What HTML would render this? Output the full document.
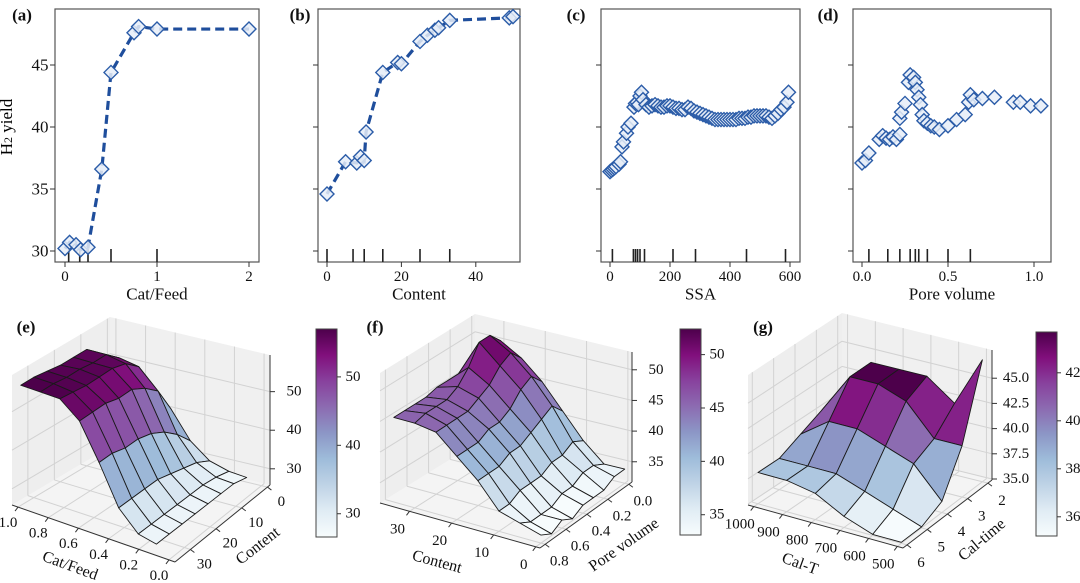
<!DOCTYPE html>
<html><head><meta charset="utf-8"><style>
body{margin:0;background:#fff;}
svg{display:block;font-family:"Liberation Serif",serif;}
</style></head><body>
<svg id="fig" width="1080" height="583" viewBox="0 0 1080 583" xmlns="http://www.w3.org/2000/svg">
<defs>
<linearGradient id="bupu" x1="0" y1="1" x2="0" y2="0">
<stop offset="0" stop-color="#f7fcfd"/><stop offset="0.125" stop-color="#e0ecf4"/><stop offset="0.25" stop-color="#bfd3e6"/><stop offset="0.375" stop-color="#9ebcda"/><stop offset="0.5" stop-color="#8c96c6"/><stop offset="0.625" stop-color="#8c6bb1"/><stop offset="0.75" stop-color="#88419d"/><stop offset="0.875" stop-color="#810f7c"/><stop offset="1" stop-color="#4d004b"/>
</linearGradient>
</defs>
<text x="12" y="127" font-size="17" text-anchor="middle" transform="rotate(-90 12 127)">H<tspan font-size="12">2</tspan> yield</text>
</svg>
<script>
// ---- data: top partial dependence panels ----
const aX=[0,0.05,0.12,0.17,0.25,0.4,0.5,0.75,0.8,1,2];
const aY=[30.2,30.7,30.5,30.1,30.3,36.6,44.4,47.6,48.1,47.9,47.9];
const aRug=[0.04,0.16,0.25,0.5,1.0];
const bX=[0,5,8,9,10,10.5,15,19,20,25,27,29,30,33,49,50];
const bY=[34.6,37.2,37.1,37.6,37.3,39.6,44.4,45.2,45.1,46.9,47.4,47.8,48.0,48.6,48.8,48.9];
const bRug=[0,7,10,15,25,33];
const cX=[0,5,10,15,20,30,35,40,45,55,60,70,80,85,90,95,100,105,110,120,130,140,150,160,170,180,190,200,210,220,230,240,250,260,270,280,290,300,310,320,330,340,350,360,370,380,390,400,410,420,430,440,450,460,470,480,490,500,510,520,530,540,550,560,570,580,590,595];
const cY=[36.4,36.5,36.6,36.7,36.8,37.0,37.2,38.4,38.8,39.5,40.0,40.3,41.6,41.9,42.0,41.8,42.5,42.8,42.2,41.8,41.6,41.7,41.8,41.7,41.6,41.6,41.7,41.7,41.6,41.5,41.5,41.4,41.4,41.6,41.5,41.3,41.2,41.1,41.0,40.9,40.8,40.7,40.6,40.6,40.6,40.6,40.6,40.6,40.6,40.6,40.7,40.7,40.7,40.8,40.8,40.9,40.9,40.9,40.9,40.9,40.8,40.7,40.9,41.1,41.4,41.6,42.0,42.8];
const cRug=[8,78,85,92,100,115,210,285,455,585];
const dX=[0,0.02,0.04,0.1,0.12,0.14,0.16,0.18,0.2,0.22,0.22,0.23,0.25,0.27,0.28,0.3,0.31,0.32,0.33,0.34,0.35,0.36,0.38,0.4,0.42,0.45,0.5,0.55,0.6,0.62,0.63,0.65,0.7,0.77,0.88,0.92,0.98,1.04];
const dY=[37.1,37.3,37.9,39.0,39.3,39.1,39.0,39.2,39.0,39.4,40.7,41.2,41.9,43.6,44.2,44.0,43.6,43.0,42.4,41.8,41.0,40.5,40.3,40.1,40.0,39.8,40.1,40.6,41.0,42.0,42.6,42.2,42.3,42.4,42.0,42.0,41.7,41.7];
const dRug=[0.04,0.15,0.22,0.28,0.31,0.33,0.38,0.5,0.63];
const yTicks=[30,35,40,45];
const aTicks=[0,1,2], bTicks=[0,20,40], cTicks=[0,200,400,600], dTicks=[0.0,0.5,1.0];
// ---- data: 3D surfaces ----
const eCat=[0.1,0.22,0.35,0.48,0.61,0.74,0.87,1.0];
const eContent=[0,5,10,15,20,25,30,35];
const eZ=[
[27,27.5,29,33,40,44,45,45],
[28,28.5,31,37,47,52,53,53],
[28,29,32,40,50,55,56,56],
[28,29,33,42,52,56,56,56],
[28,29,34,43,52,56,56.5,56],
[28,29,34,43,53,56,56.5,56.5],
[28,29,34,44,53,56.5,57,57],
[28,29,34,44,53,57,57,57]];
const fContent=[0,5,10,15,20,25,30,35];
const fPore=[0,0.1,0.2,0.3,0.4,0.5,0.6,0.7,0.8];
const fZ=[
[34,34,37,41,45,48,50,46],
[34,35,38,43,47,50,52,46],
[33,35,37,42,46,49,52,46],
[33,34,37,41,44,47,49,46],
[33,34,36,40,43,46,47,46],
[32,33,36,40,43,45,46,45.5],
[33,33,36,39,42,45,46,45.5],
[32,33,35,39,42,45,46,45.5],
[33,34,35,39,42,45,45.5,45.5]];
const gT=[500,600,700,800,900,1000];
const gTime=[2,3,4,5,6];
const gZ=[
[47,42,44,44,44,40.5],
[40,40,43,44,44,40],
[36,39,40,41,41,39],
[35,36,37,38,38,38],
[35,35,36,37.5,38,38]];

const svg=document.getElementById('fig');
const NS='http://www.w3.org/2000/svg';
function mk(tag,attrs,parent){const e=document.createElementNS(NS,tag);for(const k in attrs)e.setAttribute(k,attrs[k]);(parent||svg).appendChild(e);return e;}
function txt(s,x,y,size,parent,extra){const t=mk('text',Object.assign({x:x,y:y,'font-size':size,'text-anchor':'middle','dominant-baseline':'central',fill:'#111'},extra||{}),parent);t.textContent=s;return t;}

// ---- top panels ----
const yPix=v=>251-(v-30)*12.4;
function topPanel(id,letter,lx,left,right,x0,k,xs,ys,rug,ticks,title,dashed,showY,fmt){
  const g=mk('g',{});
  
  
  const xp=v=>x0+v*k;
  const fr=mk('rect',{x:left,y:9,width:right-left,height:253,fill:'none',stroke:'#555','stroke-width':1.2},g);
  
  
  const L=txt(letter,lx,15,17,g,{'font-weight':'bold'});
  
  
  yTicks.forEach(v=>{
    mk('line',{x1:left-5,x2:left,y1:yPix(v),y2:yPix(v),stroke:'#333'},g);
    if(showY){const t=txt(String(v),left-15,yPix(v),17,g);
      
      }
  });
  ticks.forEach(v=>{
    mk('line',{x1:xp(v),x2:xp(v),y1:262,y2:267,stroke:'#333'},g);
    const t=txt(fmt(v),xp(v),277,15,g);
    
    
  });
  const tt=txt(title,(left+right)/2,294,17,g);
  
  
  rug.forEach(v=>{
    const r=mk('line',{x1:xp(v),x2:xp(v),y1:249,y2:262,stroke:'#222','stroke-width':1.6},g);
    
    
  });
  if(dashed){
    const p=mk('polyline',{points:xs.map((x,i)=>xp(x)+','+yPix(ys[i])).join(' '),fill:'none',stroke:'#1f4e9c','stroke-width':3.2,'stroke-dasharray':'9,5'},g);
    
    
  }
  xs.forEach((x,i)=>{
    const cx=xp(x),cy=yPix(ys[i]),s=7;
    const m=mk('path',{d:`M${cx},${cy-s}L${cx+s},${cy}L${cx},${cy+s}L${cx-s},${cy}Z`,fill:'#e6edf8','fill-opacity':0.85,stroke:'#2b5ca8','stroke-width':1.4},g);
    
    
  });
}
topPanel('a','(a)',22,55,259,65,92,aX,aY,aRug,aTicks,'Cat/Feed',true,true,v=>String(v));
topPanel('b','(b)',300,318,520,327,3.72,bX,bY,bRug,bTicks,'Content',true,false,v=>String(v));
topPanel('c','(c)',576,601,800,610,0.3,cX,cY,cRug,cTicks,'SSA',false,false,v=>String(v));
topPanel('d','(d)',828,853,1051,862,172,dX,dY,dRug,dTicks,'Pore volume',false,false,v=>v.toFixed(1));

// ---- colormap ----
const cmap=[[0,[247,252,253]],[0.125,[224,236,244]],[0.25,[191,211,230]],[0.375,[158,188,218]],[0.5,[140,150,198]],[0.625,[140,107,177]],[0.75,[136,65,157]],[0.875,[129,15,124]],[1,[77,0,75]]];
function color(t){t=Math.max(0,Math.min(1,t));for(let i=1;i<cmap.length;i++){if(t<=cmap[i][0]){const a=cmap[i-1],b=cmap[i],f=(t-a[0])/(b[0]-a[0]);const c=a[1].map((v,j)=>Math.round(v+(b[1][j]-v)*f));return `rgb(${c[0]},${c[1]},${c[2]})`;}}return 'rgb(77,0,75)';}

// ---- 3D panels ----
function panel3D(cfg){
  const g=mk('g',{});
  
  
  const {C00,C10,C01,C11,H}=cfg;
  const P=(u,v,w)=>[(1-u)*(1-v)*C00[0]+u*(1-v)*C10[0]+(1-u)*v*C01[0]+u*v*C11[0],
                     (1-u)*(1-v)*C00[1]+u*(1-v)*C10[1]+(1-u)*v*C01[1]+u*v*C11[1]-w*H];
  const U=x=>(x-cfg.xr[0])/(cfg.xr[1]-cfg.xr[0]);
  const V=y=>(y-cfg.yr[0])/(cfg.yr[1]-cfg.yr[0]);
  const W=z=>(z-cfg.zr[0])/(cfg.zr[1]-cfg.zr[0]);
  const poly=(pts,attrs,name)=>{const p=mk('polygon',Object.assign({points:pts.map(q=>q[0].toFixed(1)+','+q[1].toFixed(1)).join(' ')},attrs),g);return p;};
  const ln=(a,b,attrs)=>mk('line',Object.assign({x1:a[0],y1:a[1],x2:b[0],y2:b[1]},attrs),g);
  poly([P(0,0,0),P(1,0,0),P(1,1,0),P(0,1,0)],{fill:'#f4f4f4',stroke:'none'},'floor-pane');
  poly([P(1,0,0),P(1,1,0),P(1,1,1),P(1,0,1)],{fill:'#eeeeee',stroke:'none'},'left-pane');
  poly([P(0,1,0),P(1,1,0),P(1,1,1),P(0,1,1)],{fill:'#f0f0f0',stroke:'none'},'back-pane');
  const gs={stroke:'#d2d2d2','stroke-width':1};
  cfg.xt.forEach(x=>{const u=U(x);ln(P(u,0,0),P(u,1,0),gs);ln(P(u,1,0),P(u,1,1),gs);});
  cfg.yt.forEach(y=>{const v=V(y);ln(P(0,v,0),P(1,v,0),gs);ln(P(1,v,0),P(1,v,1),gs);});
  cfg.zt.forEach(z=>{const w=W(z);ln(P(1,0,w),P(1,1,w),gs);ln(P(0,1,w),P(1,1,w),gs);});
  ln(P(0,0,0),P(1,0,0),{stroke:'#333','stroke-width':1});
  ln(P(0,0,0),P(0,1,0),{stroke:'#333','stroke-width':1});
  ln(P(0,1,0),P(0,1,1),{stroke:'#333','stroke-width':1});
  cfg.xt.forEach((x,i)=>{const a=P(U(x),0,0);ln(a,[a[0]-3,a[1]+4],{stroke:'#333'});
    const t=txt(cfg.xl[i],a[0]+cfg.xo[0],a[1]+cfg.xo[1],15,g);
    
    });
  cfg.yt.forEach((y,i)=>{const a=P(0,V(y),0);ln(a,[a[0]+4,a[1]+3],{stroke:'#333'});
    const t=txt(cfg.yl[i],a[0]+cfg.yo[0],a[1]+cfg.yo[1],15,g);
    
    });
  cfg.zt.forEach((z,i)=>{const a=P(0,1,W(z));ln(a,[a[0]+5,a[1]],{stroke:'#333'});
    const t=txt(cfg.zl[i],a[0]+24,a[1],15,g);
    
    });
  const xt=txt(cfg.xTitle[0],cfg.xTitle[1],cfg.xTitle[2],16,g,{transform:`rotate(${cfg.xTitle[3]} ${cfg.xTitle[1]} ${cfg.xTitle[2]})`});
  
  
  const yt=txt(cfg.yTitle[0],cfg.yTitle[1],cfg.yTitle[2],16,g,{transform:`rotate(${cfg.yTitle[3]} ${cfg.yTitle[1]} ${cfg.yTitle[2]})`});
  
  
  const quads=[];
  const xs=cfg.xs, ys=cfg.ys, Z=cfg.Z;
  for(let r=0;r<ys.length-1;r++)for(let c=0;c<xs.length-1;c++){
    const corners=[[c,r],[c+1,r],[c+1,r+1],[c,r+1]];
    const pts=corners.map(([ci,ri])=>P(U(xs[ci]),V(ys[ri]),W(Z[ri][ci])));
    const zavg=corners.reduce((s,[ci,ri])=>s+Z[ri][ci],0)/4;
    const depth=(U(xs[c])+U(xs[c+1]))/2+(V(ys[r])+V(ys[r+1]))/2;
    quads.push({pts,zavg,depth});
  }
  quads.sort((a,b)=>b.depth-a.depth);
  quads.forEach(q=>poly(q.pts,{fill:color((q.zavg-cfg.cb[0])/(cfg.cb[1]-cfg.cb[0])),stroke:'#1a1a1a','stroke-width':0.9,'stroke-linejoin':'round'},'surface-cell'));
  const [bx,by,bw,bh]=cfg.cbRect;
  const cb=mk('rect',{x:bx,y:by,width:bw,height:bh,fill:'url(#bupu)',stroke:'#444','stroke-width':1},g);
  
  
  cfg.cbt.forEach(v=>{const y=by+bh-(v-cfg.cb[0])/(cfg.cb[1]-cfg.cb[0])*bh;
    mk('line',{x1:bx+bw,x2:bx+bw+4,y1:y,y2:y,stroke:'#333'},g);
    const t=txt(String(v),bx+bw+16,y,15,g);
    
    });
  const L=txt(cfg.letter,cfg.lpos[0],cfg.lpos[1],17,g,{'font-weight':'bold'});
  
  
}
panel3D({id:'e',letter:'(e)',lpos:[26,327],C00:[175,562],C10:[12,505],C01:[270,485],C11:[110,447],H:130,
  xs:eCat,ys:eContent,Z:eZ,xr:[-0.04,1.04],yr:[36,-1],zr:[25.8,59.5],
  xt:[0,0.2,0.4,0.6,0.8,1.0],xl:['0.0','0.2','0.4','0.6','0.8','1.0'],xo:[-10,16],
  yt:[0,10,20,30],yl:['0','10','20','30'],yo:[14,15],
  zt:[30,40,50],zl:['30','40','50'],
  xTitle:['Cat/Feed',70,566,20],yTitle:['Content',258,546,-38],
  cb:[26.6,57],cbRect:[316,329,21,208],cbt:[30,40,50]});
panel3D({id:'f',letter:'(f)',lpos:[375,327],C00:[540,548],C10:[380,503],C01:[632,482],C11:[475,444],H:130,
  xs:fContent,ys:fPore,Z:fZ,xr:[-1,37],yr:[0.85,-0.03],zr:[31.7,52.9],
  xt:[0,10,20,30],xl:['0','10','20','30'],xo:[-12,18],
  yt:[0,0.2,0.4,0.6,0.8],yl:['0.0','0.2','0.4','0.6','0.8'],yo:[14,17],
  zt:[35,40,45,50],zl:['35','40','45','50'],
  xTitle:['Content',437,562,15],yTitle:['Pore volume',624,545,-35],
  cb:[33.1,52.4],cbRect:[680,329,21,206],cbt:[35,40,45,50]});
panel3D({id:'g',letter:'(g)',lpos:[763,327],C00:[903,548],C10:[748,505],C01:[992,480],C11:[842,443],H:130,
  xs:gT,ys:gTime,Z:gZ,xr:[480,1020],yr:[6.2,1.8],zr:[34.9,47.8],
  xt:[500,600,700,800,900,1000],xl:['500','600','700','800','900','1000'],xo:[-14,18],
  yt:[2,3,4,5,6],yl:['2','3','4','5','6'],yo:[14,18],
  zt:[35,37.5,40,42.5,45],zl:['35.0','37.5','40.0','42.5','45.0'],
  xTitle:['Cal-T',800,564,20],yTitle:['Cal-time',982,540,-40],
  cb:[35.2,43.7],cbRect:[1036,332,21,204],cbt:[36,38,40,42]});
</script>
</body></html>
